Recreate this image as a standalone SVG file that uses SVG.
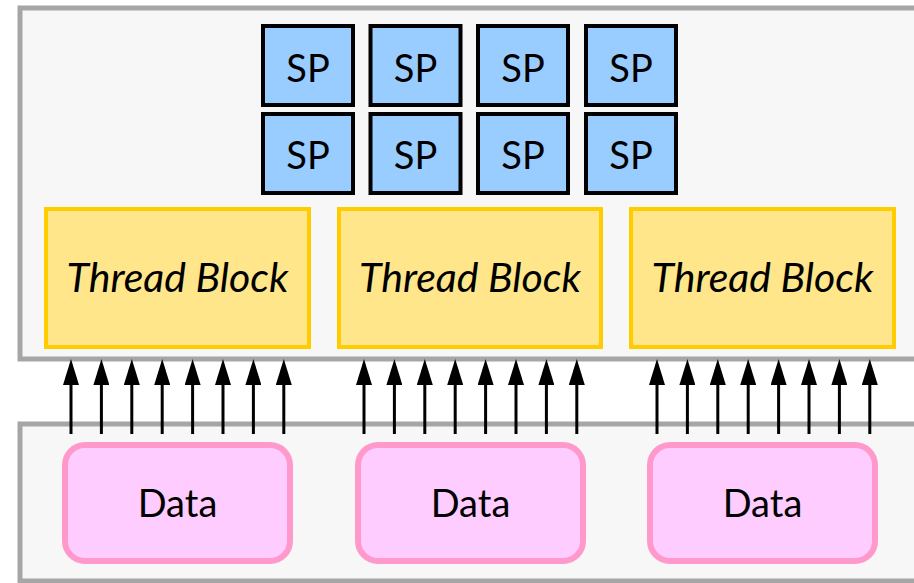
<svg xmlns="http://www.w3.org/2000/svg" width="914" height="583" viewBox="0 0 914 583">
<defs>
<style>
.cont{fill:#F7F7F7;stroke:#A6A6A6;stroke-width:5}
.sp rect{fill:#99CCFF;stroke:#000;stroke-width:4}
.tb rect{fill:#FFE68A;stroke:#FFCC00;stroke-width:4}
.data rect{fill:#FFCCFF;stroke:#FF99CC;stroke-width:6}
text{font-family:Lato,"Open Sans","Noto Sans",sans-serif;fill:#000;text-anchor:middle}
.sp text{font-size:38px}
.tb text{font-size:41px;font-style:italic}
.data text{font-size:38px}
.arr line{stroke:#000;stroke-width:3}
</style>
<marker id="ah" viewBox="0 0 26 16" markerWidth="26" markerHeight="16" markerUnits="userSpaceOnUse" refX="0" refY="8" orient="auto">
<path d="M0,0 L26,8 L0,16 z" fill="#000"/>
</marker>
</defs>
<rect width="914" height="583" fill="#fff"/>
<rect id="top-container" class="cont" x="20" y="8" width="910" height="351"/>
<rect id="bottom-container" class="cont" x="20" y="424" width="910" height="157"/>

<g id="sp1" class="sp"><rect x="263" y="26" width="90" height="79"/><text x="308" y="82">SP</text></g>
<g id="sp2" class="sp"><rect x="370.5" y="26" width="90" height="79"/><text x="415.5" y="82">SP</text></g>
<g id="sp3" class="sp"><rect x="478" y="26" width="90" height="79"/><text x="523" y="82">SP</text></g>
<g id="sp4" class="sp"><rect x="586" y="26" width="90" height="79"/><text x="631" y="82">SP</text></g>
<g id="sp5" class="sp"><rect x="263" y="114" width="90" height="79"/><text x="308" y="169">SP</text></g>
<g id="sp6" class="sp"><rect x="370.5" y="114" width="90" height="79"/><text x="415.5" y="169">SP</text></g>
<g id="sp7" class="sp"><rect x="478" y="114" width="90" height="79"/><text x="523" y="169">SP</text></g>
<g id="sp8" class="sp"><rect x="586" y="114" width="90" height="79"/><text x="631" y="169">SP</text></g>

<g id="tb1" class="tb"><rect x="46" y="209" width="263" height="138"/><text x="177.5" y="292">Thread Block</text></g>
<g id="tb2" class="tb"><rect x="339" y="209" width="262" height="138"/><text x="470" y="292">Thread Block</text></g>
<g id="tb3" class="tb"><rect x="631" y="209" width="263" height="138"/><text x="762.5" y="292">Thread Block</text></g>

<g id="data1" class="data"><rect x="65" y="445" width="225" height="116" rx="20"/><text x="177.5" y="517">Data</text></g>
<g id="data2" class="data"><rect x="358" y="445" width="225" height="116" rx="20"/><text x="470.5" y="517">Data</text></g>
<g id="data3" class="data"><rect x="650" y="445" width="225" height="116" rx="20"/><text x="762.5" y="517">Data</text></g>

<g id="connectors" class="arr">
<line x1="71" y1="434" x2="71" y2="385" marker-end="url(#ah)"/>
<line x1="101.4" y1="434" x2="101.4" y2="385" marker-end="url(#ah)"/>
<line x1="131.8" y1="434" x2="131.8" y2="385" marker-end="url(#ah)"/>
<line x1="162.2" y1="434" x2="162.2" y2="385" marker-end="url(#ah)"/>
<line x1="192.6" y1="434" x2="192.6" y2="385" marker-end="url(#ah)"/>
<line x1="223" y1="434" x2="223" y2="385" marker-end="url(#ah)"/>
<line x1="253.4" y1="434" x2="253.4" y2="385" marker-end="url(#ah)"/>
<line x1="283.8" y1="434" x2="283.8" y2="385" marker-end="url(#ah)"/>
<line x1="364" y1="434" x2="364" y2="385" marker-end="url(#ah)"/>
<line x1="394.4" y1="434" x2="394.4" y2="385" marker-end="url(#ah)"/>
<line x1="424.8" y1="434" x2="424.8" y2="385" marker-end="url(#ah)"/>
<line x1="455.2" y1="434" x2="455.2" y2="385" marker-end="url(#ah)"/>
<line x1="485.6" y1="434" x2="485.6" y2="385" marker-end="url(#ah)"/>
<line x1="516" y1="434" x2="516" y2="385" marker-end="url(#ah)"/>
<line x1="546.4" y1="434" x2="546.4" y2="385" marker-end="url(#ah)"/>
<line x1="576.8" y1="434" x2="576.8" y2="385" marker-end="url(#ah)"/>
<line x1="657" y1="434" x2="657" y2="385" marker-end="url(#ah)"/>
<line x1="687.4" y1="434" x2="687.4" y2="385" marker-end="url(#ah)"/>
<line x1="717.8" y1="434" x2="717.8" y2="385" marker-end="url(#ah)"/>
<line x1="748.2" y1="434" x2="748.2" y2="385" marker-end="url(#ah)"/>
<line x1="778.6" y1="434" x2="778.6" y2="385" marker-end="url(#ah)"/>
<line x1="809" y1="434" x2="809" y2="385" marker-end="url(#ah)"/>
<line x1="839.4" y1="434" x2="839.4" y2="385" marker-end="url(#ah)"/>
<line x1="869.8" y1="434" x2="869.8" y2="385" marker-end="url(#ah)"/>
</g>
</svg>
